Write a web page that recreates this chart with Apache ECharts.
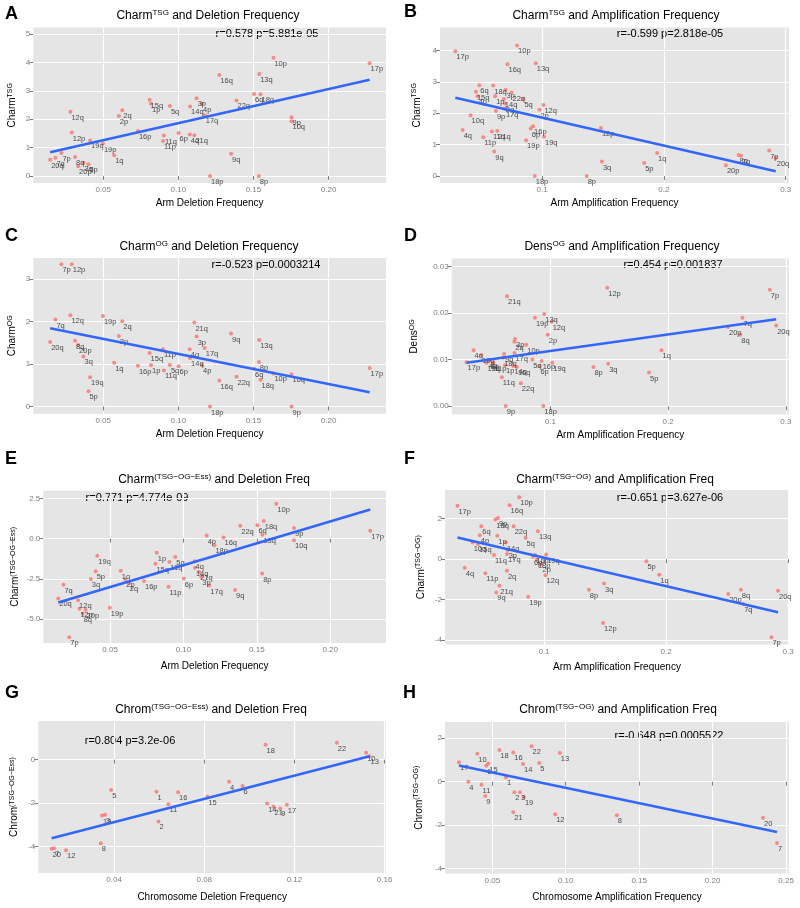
<!DOCTYPE html>
<html><head><meta charset="utf-8">
<script src="https://cdn.jsdelivr.net/npm/echarts@6/dist/echarts.min.js"></script>
<style>html,body{margin:0;padding:0;background:#fff}#c{width:800px;height:908px}</style>
</head><body><div id="c"></div>
<script>
// ---------------- DATA ----------------
const arms = ['1p','1q','2p','2q','3p','3q','4p','4q','5p','5q','6p','6q','7p','7q','8p','8q','9p','9q','10p','10q','11p','11q','12p','12q','13q','14q','15q','16p','16q','17p','17q','18p','18q','19p','19q','20p','20q','21q','22q'];
const armDelFreq = [0.0818,0.0573,0.0604,0.0627,0.1122,0.0369,0.1158,0.1076,0.0402,0.0944,0.1002,0.1504,0.0222,0.0182,0.1536,0.0313,0.1753,0.1351,0.1633,0.1753,0.0898,0.0904,0.0291,0.0282,0.1538,0.1078,0.0809,0.0731,0.1273,0.2273,0.1176,0.1211,0.1547,0.0498,0.0413,0.0333,0.0147,0.1107,0.1387];
const armAmpFreq = [0.0615,0.1944,0.0978,0.0694,0.0700,0.1491,0.0471,0.0348,0.1838,0.0847,0.0907,0.0484,0.2864,0.2632,0.1366,0.2613,0.0621,0.0607,0.0795,0.0413,0.0517,0.0588,0.1483,0.1011,0.0948,0.0686,0.0457,0.0926,0.0716,0.0288,0.0695,0.0940,0.0599,0.0869,0.1016,0.2509,0.2918,0.0632,0.0749];
const charmTSG = [2.54,0.73,2.11,2.31,2.74,0.46,2.54,1.46,0.41,2.46,1.51,2.89,0.81,0.64,0.00,0.67,2.07,0.78,4.16,1.93,1.23,1.42,1.53,2.26,3.59,2.45,2.68,1.58,3.56,3.97,2.14,0.00,2.88,1.14,1.25,0.34,0.57,1.43,2.66];
const charmOG = [0.97,1.03,1.66,2.01,1.65,1.18,0.97,1.35,0.36,0.98,0.95,0.89,3.35,2.05,1.05,1.55,0.00,1.72,0.78,0.76,1.35,0.85,3.35,2.15,1.57,1.14,1.26,0.96,0.61,0.91,1.38,0.00,0.63,2.13,0.69,1.45,1.52,1.98,0.70];
const densOG = [0.0088,0.0120,0.0153,0.0138,0.0144,0.0091,0.0099,0.0120,0.0072,0.0100,0.0086,0.0098,0.0250,0.0190,0.0084,0.0153,0.0000,0.0112,0.0132,0.0110,0.0093,0.0062,0.0254,0.0181,0.0198,0.0086,0.0093,0.0097,0.0084,0.0094,0.0114,0.0000,0.0104,0.0190,0.0093,0.0170,0.0173,0.0236,0.0049];
const charmTsgOgEss = [-0.87,-1.99,-2.53,-2.77,-2.36,-2.50,0.19,-1.40,-2.03,-1.14,-2.48,0.83,-6.13,-2.86,-2.17,-4.66,0.66,-3.19,2.17,-0.10,-2.98,-1.45,-4.35,-3.83,0.25,-1.80,-1.55,-2.63,0.08,0.50,-2.91,-0.41,1.10,-4.29,-1.06,-4.41,-3.71,-2.07,0.81];
const charmTsgOg = [1.15,-0.77,-0.26,-0.57,0.45,-1.20,1.18,-0.43,-0.11,1.05,0.12,1.62,-3.85,-2.21,-1.51,-1.51,2.03,-1.64,3.05,0.82,-0.70,0.20,-3.15,-0.79,1.38,0.82,0.75,0.20,2.66,2.63,0.25,-0.02,1.95,-1.86,0.23,-1.72,-1.56,-1.31,1.62];

const chroms = ['1','2','3','4','5','6','7','8','9','10','11','12','13','14','15','16','17','18','19','20','21','22'];
const chromDelFreq = [0.0588,0.0597,0.0360,0.0910,0.0387,0.0970,0.0134,0.0341,0.1137,0.1518,0.0641,0.0187,0.1533,0.1079,0.0814,0.0684,0.1166,0.1072,0.0347,0.0123,0.1107,0.1388];
const chromTsgOgEss = [-1.48,-2.85,-2.54,-1.02,-1.40,-1.22,-4.09,-3.86,-2.25,0.32,-2.06,-4.18,0.15,-2.03,-1.71,-1.51,-2.08,0.69,-2.58,-4.11,-2.18,0.78];
const chromAmpFreq = [0.0593,0.0650,0.0688,0.0337,0.0820,0.0459,0.2438,0.1348,0.0452,0.0398,0.0427,0.0928,0.0960,0.0709,0.0473,0.0643,0.0273,0.0548,0.0715,0.2343,0.0643,0.0767];
const chromTsgOg = [0.21,-0.49,-0.49,0.00,0.86,0.74,-2.82,-1.55,-0.66,1.29,-0.14,-1.50,1.32,0.81,0.84,1.35,0.89,1.46,-0.71,-1.66,-1.41,1.63];

// tick values and labels
const xTicksArmDel = [0.05,0.10,0.15,0.20], xLabelsArmDel = ['0.05','0.10','0.15','0.20'];
const xTicksArmAmp = [0.1,0.2,0.3], xLabelsArmAmp = ['0.1','0.2','0.3'];
const xTicksChromDel = [0.04,0.08,0.12,0.16], xLabelsChromDel = ['0.04','0.08','0.12','0.16'];
const xTicksChromAmp = [0.05,0.10,0.15,0.20,0.25], xLabelsChromAmp = ['0.05','0.10','0.15','0.20','0.25'];
const yTicksA = [0,1,2,3,4,5], yLabelsA = ['0','1','2','3','4','5'];
const yTicksB = [0,1,2,3,4], yLabelsB = ['0','1','2','3','4'];
const yTicksC = [0,1,2,3], yLabelsC = ['0','1','2','3'];
const yTicksD = [0,0.01,0.02,0.03], yLabelsD = ['0.00','0.01','0.02','0.03'];
const yTicksE = [-5,-2.5,0,2.5], yLabelsE = ['-5.0','-2.5','0.0','2.5'];
const yTicksF = [-4,-2,0,2], yLabelsF = ['-4','-2','0','2'];
const yTicksG = [-4,-2,0], yLabelsG = ['-4','-2','0'];
const yTicksH = [-4,-2,0,2], yLabelsH = ['-4','-2','0','2'];

const statTexts = ['r=0.578 p=5.881e-05','r=-0.599 p=2.818e-05','r=-0.523 p=0.0003214','r=0.454 p=0.001837','r=0.771 p=4.774e-09','r=-0.651 p=3.627e-06','r=0.804 p=3.2e-06','r=-0.648 p=0.0005522'];

// ---------------- LAYOUT ----------------
const FONT = '"Liberation Sans", Arial, Helvetica, sans-serif';
const panels = [
 {L:'A', x:armDelFreq, y:charmTSG, lab:arms, box:[33.3,27.5,386,183], xr:[0.0035,0.2382], yr:[-0.25,5.23], xt:xTicksArmDel, xl:xLabelsArmDel, yt:yTicksA, yl:yLabelsA,
  title:['Charm','TSG',' and Deletion Frequency'], yname:['Charm','TSG'], xname:'Arm Deletion Frequency', stat:[267,34], titleXY:[208,16], letterXY:[5,14], xGap:15, yGap:15},
 {L:'B', x:armAmpFreq, y:charmTSG, lab:arms, box:[440,27.5,789,183], xr:[0.0162,0.3027], yr:[-0.225,4.73], xt:xTicksArmAmp, xl:xLabelsArmAmp, yt:yTicksB, yl:yLabelsB,
  title:['Charm','TSG',' and Amplification Frequency'], yname:['Charm','TSG'], xname:'Arm Amplification Frequency', stat:[670,34], titleXY:[616,16], letterXY:[404,12], xGap:15, yGap:17},
 {L:'C', x:armDelFreq, y:charmOG, lab:arms, box:[33.3,258,386,413.7], xr:[0.0035,0.2382], yr:[-0.17,3.5], xt:xTicksArmDel, xl:xLabelsArmDel, yt:yTicksC, yl:yLabelsC,
  title:['Charm','OG',' and Deletion Frequency'], yname:['Charm','OG'], xname:'Arm Deletion Frequency', stat:[266,265], titleXY:[209,247], letterXY:[5,236], xGap:16, yGap:15},
 {L:'D', x:armAmpFreq, y:densOG, lab:arms, box:[451.7,258.5,789,414.5], xr:[0.0162,0.3027], yr:[-0.0018,0.0317], xt:xTicksArmAmp, xl:xLabelsArmAmp, yt:yTicksD, yl:yLabelsD,
  title:['Dens','OG',' and Amplification Frequency'], yname:['Dens','OG'], xname:'Arm Amplification Frequency', stat:[673,265], titleXY:[622,247], letterXY:[404,236], xGap:16, yGap:31},
 {L:'E', x:armDelFreq, y:charmTsgOgEss, lab:arms, box:[43.3,490.7,386,643], xr:[0.0045,0.2380], yr:[-6.48,2.98], xt:xTicksArmDel, xl:xLabelsArmDel, yt:yTicksE, yl:yLabelsE,
  title:['Charm','(TSG\u2212OG\u2212Ess)',' and Deletion Freq'], yname:['Charm','(TSG\u2212OG\u2212Ess)'], xname:'Arm Deletion Frequency', stat:[137,498], titleXY:[214,480], letterXY:[5,459], xGap:18, yGap:22},
 {L:'F', x:armAmpFreq, y:charmTsgOg, lab:arms, box:[445,490,789,644.5], xr:[0.0186,0.3008], yr:[-4.21,3.41], xt:xTicksArmAmp, xl:xLabelsArmAmp, yt:yTicksF, yl:yLabelsF,
  title:['Charm','(TSG\u2212OG)',' and Amplification Freq'], yname:['Charm','(TSG\u2212OG)'], xname:'Arm Amplification Frequency', stat:[670,498], titleXY:[615,480], letterXY:[404,459], xGap:18, yGap:18},
 {L:'G', x:chromDelFreq, y:chromTsgOgEss, lab:chroms, box:[38.3,721,386,873], xr:[0.0064,0.1606], yr:[-5.23,1.78], xt:xTicksChromDel, xl:xLabelsChromDel, yt:yTicksG, yl:yLabelsG,
  title:['Chrom','(TSG\u2212OG\u2212Ess)',' and Deletion Freq'], yname:['Chrom','(TSG\u2212OG\u2212Ess)'], xname:'Chromosome Deletion Frequency', stat:[130,741], titleXY:[211,710], letterXY:[5,693], xGap:19, yGap:18},
 {L:'H', x:chromAmpFreq, y:chromTsgOg, lab:chroms, box:[445,722,789,873.5], xr:[0.0178,0.2520], yr:[-4.23,2.75], xt:xTicksChromAmp, xl:xLabelsChromAmp, yt:yTicksH, yl:yLabelsH,
  title:['Chrom','(TSG\u2212OG)',' and Amplification Freq'], yname:['Chrom','(TSG\u2212OG)'], xname:'Chromosome Amplification Frequency', stat:[669,736], titleXY:[618,710], letterXY:[403,693], xGap:19, yGap:20}
];

// least-squares fit (same as ggplot geom_smooth(method = "lm"))
function fit(xs, ys){
  const n = xs.length; let mx=0,my=0; for(let i=0;i<n;i++){mx+=xs[i];my+=ys[i];} mx/=n; my/=n;
  let sxy=0,sxx=0; for(let i=0;i<n;i++){sxy+=(xs[i]-mx)*(ys[i]-my); sxx+=(xs[i]-mx)**2;}
  const b=sxy/sxx; return {a:my-b*mx, b};
}
function fmtFor(ticks, labels){ return v => { const i = ticks.findIndex(t => Math.abs(t-v) < 1e-9); return i>=0 ? labels[i] : ''; }; }

const grid=[], xAxis=[], yAxis=[], series=[], graphic=[];
panels.forEach((p,i)=>{
  const [l,t,r,b] = p.box;
  grid.push({left:l, top:t, width:r-l, height:b-t, show:true, backgroundColor:'#E5E5E5', borderWidth:0, containLabel:false});
  xAxis.push({type:'value', gridIndex:i, min:p.xr[0], max:p.xr[1],
    axisLine:{show:false}, axisTick:{show:true, length:4, customValues:p.xt, lineStyle:{color:'#7F7F7F'}},
    axisLabel:{customValues:p.xt, formatter:fmtFor(p.xt,p.xl), color:'#7F7F7F', fontSize:8, margin:3, fontFamily:FONT},
    splitLine:{show:true, lineStyle:{color:'#FFFFFF', width:1.2}},
    name:p.xname, nameLocation:'middle', nameGap:p.xGap, nameTextStyle:{fontSize:10, color:'#000', fontFamily:FONT}});
  yAxis.push({type:'value', gridIndex:i, min:p.yr[0], max:p.yr[1],
    axisLine:{show:false}, axisTick:{show:true, length:4, customValues:p.yt, lineStyle:{color:'#7F7F7F'}},
    axisLabel:{customValues:p.yt, formatter:fmtFor(p.yt,p.yl), color:'#7F7F7F', fontSize:8, margin:3, fontFamily:FONT},
    splitLine:{show:true, lineStyle:{color:'#FFFFFF', width:1.2}},
    name:'{n|'+p.yname[0]+'}{s|'+p.yname[1]+'}', nameLocation:'middle', nameRotate:90, nameGap:p.yGap,
    nameTextStyle:{fontFamily:FONT, color:'#000', rich:{n:{fontSize:10, lineHeight:12, fontFamily:FONT, color:'#000'}, s:{fontSize:7, lineHeight:7, verticalAlign:'top', fontFamily:FONT, color:'#000'}}}});
  series.push({type:'scatter', xAxisIndex:i, yAxisIndex:i, symbolSize:4, z:2,
    itemStyle:{color:'#F8766D'},
    data:p.x.map((v,j)=>[v, p.y[j], p.lab[j]]),
    label:{show:true, formatter:q=>q.data[2], position:[3,4], fontSize:7.5, color:'#222', fontFamily:FONT}});
  const f = fit(p.x, p.y);
  const xmin = Math.min(...p.x), xmax = Math.max(...p.x);
  series.push({type:'line', xAxisIndex:i, yAxisIndex:i, z:3, showSymbol:false, symbol:'none',
    lineStyle:{color:'#3366FF', width:2.6}, data:[[xmin, f.a+f.b*xmin],[xmax, f.a+f.b*xmax]]});
  graphic.push({type:'text', x:p.letterXY[0], y:p.letterXY[1], style:{text:p.L, font:'bold 18px '+FONT, fill:'#000', align:'left', verticalAlign:'middle'}});
  graphic.push({type:'text', x:p.titleXY[0], y:p.titleXY[1], style:{text:'{n|'+p.title[0]+'}{s|'+p.title[1]+'}{n|'+p.title[2]+'}', align:'center', verticalAlign:'middle',
    rich:{n:{fontSize:12, lineHeight:14, fontFamily:FONT, fill:'#000'}, s:{fontSize:8, lineHeight:8, verticalAlign:'top', fontFamily:FONT, fill:'#000'}}}});
  graphic.push({type:'text', x:p.stat[0], y:p.stat[1], style:{text:statTexts[i], font:'11px '+FONT, fill:'#000', align:'center', verticalAlign:'middle'}});
});

const chart = echarts.init(document.getElementById('c'), null, {renderer:'canvas'});
chart.setOption({animation:false, backgroundColor:'#fff', grid, xAxis, yAxis, series, graphic});
</script></body></html>
